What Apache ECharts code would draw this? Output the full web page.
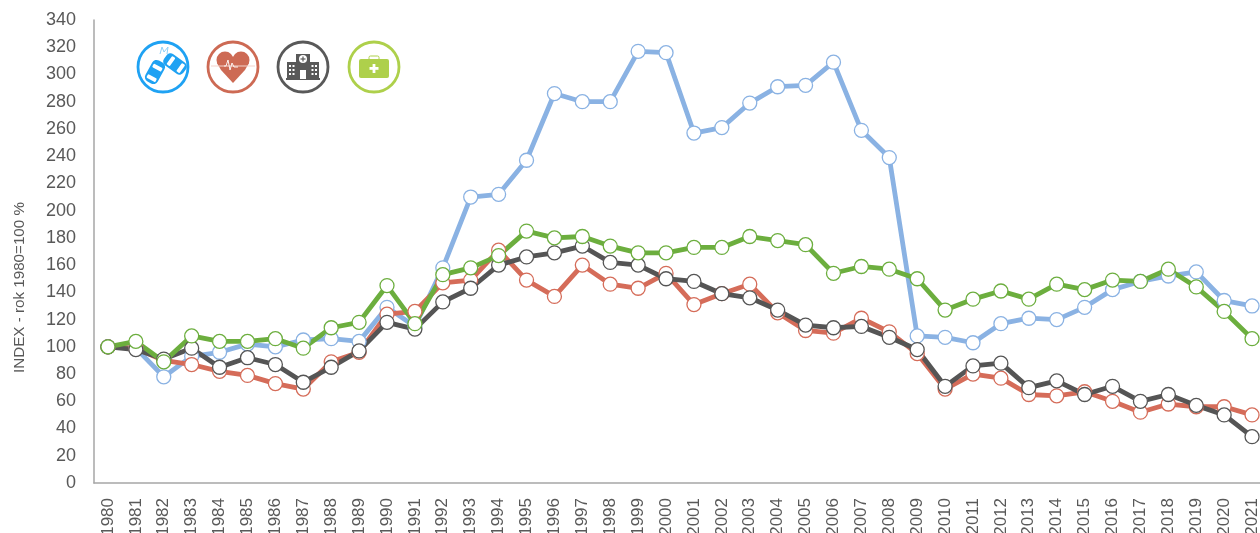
<!DOCTYPE html>
<html>
<head>
<meta charset="utf-8">
<style>html,body{margin:0;padding:0;background:#fff;overflow:hidden}#c{width:1260px;height:533px}</style>
<script src="https://cdn.jsdelivr.net/npm/echarts@6/dist/echarts.min.js"></script>
</head>
<body>
<div id="c"></div>
<script>
const years = [1980,1981,1982,1983,1984,1985,1986,1987,1988,1989,1990,1991,1992,1993,1994,1995,1996,1997,1998,1999,2000,2001,2002,2003,2004,2005,2006,2007,2008,2009,2010,2011,2012,2013,2014,2015,2016,2017,2018,2019,2020,2021].map(String);
const blueValues = [100,99,78,93,96,102,100,105,106,104,129,115,158,210,212,237,286,280,280,317,316,257,261,279,291,292,309,259,239,108,107,103,117,121,120,129,142,148,152,155,134,130];
const redValues = [100,99,90,87,82,79,73,69,89,96,124,126,147,149,171,149,137,160,146,143,154,131,139,146,125,112,110,121,111,95,69,80,77,65,64,67,60,52,58,56,56,50];
const blackValues = [100,98,91,99,85,92,87,74,85,97,118,113,133,143,160,166,169,174,162,160,150,148,139,136,127,116,114,115,107,98,71,86,88,70,75,65,71,60,65,57,50,34];
const greenValues = [100,104,89,108,104,104,106,99,114,118,145,117,153,158,167,185,180,181,174,169,169,173,173,181,178,175,154,159,157,150,127,135,141,135,146,142,149,148,157,144,126,106];
const axisName = 'INDEX - rok 1980=100 %';

const textColor = '#595959';
const font = '"Liberation Sans", Arial, sans-serif';
const line = (name, data, color) => ({
  name, type: 'line', data, symbol: 'circle', symbolSize: 14,
  lineStyle: {color, width: 4.8, cap: 'round', join: 'round'},
  itemStyle: {color: '#fff', borderColor: color, borderWidth: 1.3},
  animation: false, silent: true, z: 2
});
const ring = (cx, color, children) => ({
  type: 'group', x: cx, y: 67, silent: true,
  children: [{type: 'circle', shape: {r: 25}, style: {fill: '#fff', stroke: color, lineWidth: 2.8}}].concat(children)
});
const car = (x, y, rot, c) => ({
  type: 'group', x, y, rotation: rot, children: [
    {type: 'rect', shape: {x: -7, y: -12, width: 14, height: 24, r: 5}, style: {fill: c}},
    {type: 'rect', shape: {x: -5, y: -7, width: 10, height: 4, r: 1}, style: {fill: '#fff'}},
    {type: 'rect', shape: {x: -5, y: 5, width: 10, height: 4, r: 1}, style: {fill: '#fff'}}
  ]
});
const win = (x, y) => ({type: 'rect', shape: {x, y, width: 2, height: 2}, style: {fill: '#fff'}});
const icons = [
  ring(163, '#1fa2f3', [
    car(-8, 5, -0.5, '#1fa2f3'),
    car(12, -3, 0.95, '#1fa2f3'),
    {type: 'polyline', shape: {points: [[-3,-13],[-1,-20],[1,-15],[5,-20],[4,-13]]}, style: {fill: 'none', stroke: '#8fd0f8', lineWidth: 1}}
  ]),
  ring(233, '#cd6a54', [
    {type: 'circle', shape: {cx: -8, cy: -7, r: 8.5}, style: {fill: '#cd6a54'}},
    {type: 'circle', shape: {cx: 8, cy: -7, r: 8.5}, style: {fill: '#cd6a54'}},
    {type: 'polygon', shape: {points: [[-16,-4],[-8,-9],[8,-9],[16,-4],[12,3],[0,16],[-12,3]]}, style: {fill: '#cd6a54'}},
    {type: 'line', shape: {x1: -22, y1: -1, x2: 22, y2: -1}, style: {stroke: '#f3d3cc', lineWidth: 1.2}},
    {type: 'polyline', shape: {points: [[-9,-1],[-7,-1],[-5,-7],[-3,3],[-1,-4],[1,0],[5,0]]}, style: {fill: 'none', stroke: '#fff', lineWidth: 0.9}}
  ]),
  ring(303, '#595959', [
    {type: 'rect', shape: {x: -16, y: -5, width: 32, height: 17}, style: {fill: '#595959'}},
    {type: 'rect', shape: {x: -7, y: -13, width: 14, height: 25}, style: {fill: '#595959'}},
    {type: 'rect', shape: {x: -17, y: 11, width: 34, height: 2}, style: {fill: '#595959'}},
    {type: 'circle', shape: {cx: 0, cy: -8, r: 4}, style: {fill: '#fff'}},
    {type: 'rect', shape: {x: -2.5, y: -8.6, width: 5, height: 1.2}, style: {fill: '#595959'}},
    {type: 'rect', shape: {x: -0.6, y: -10.5, width: 1.2, height: 5}, style: {fill: '#595959'}},
    {type: 'rect', shape: {x: -3, y: 3, width: 6, height: 9}, style: {fill: '#fff'}},
    win(-14,-2), win(-10.5,-2), win(-14,2), win(-10.5,2), win(-14,6), win(-10.5,6),
    win(8.5,-2), win(12,-2), win(8.5,2), win(12,2), win(8.5,6), win(12,6)
  ]),
  ring(374, '#aed04b', [
    {type: 'rect', shape: {x: -5, y: -11, width: 10, height: 5, r: 1.5}, style: {fill: 'none', stroke: '#aed04b', lineWidth: 1}},
    {type: 'rect', shape: {x: -15, y: -8, width: 30, height: 19, r: 2}, style: {fill: '#aed04b'}},
    {type: 'rect', shape: {x: -4.5, y: 0, width: 9, height: 2.8}, style: {fill: '#fff'}},
    {type: 'rect', shape: {x: -1.4, y: -3, width: 2.8, height: 9}, style: {fill: '#fff'}}
  ])
];

const chart = echarts.init(document.getElementById('c'), null, {renderer: 'canvas'});
chart.setOption({
  backgroundColor: '#fff',
  animation: false,
  grid: {left: 94, top: 20, width: 1172, height: 463, containLabel: false, outerBoundsMode: 'none'},
  xAxis: {
    type: 'category', data: years, boundaryGap: true,
    axisLine: {lineStyle: {color: '#a6a6a6', width: 1.5}},
    axisTick: {show: false},
    axisLabel: {rotate: 90, interval: 0, margin: 15, color: textColor, fontFamily: font, fontSize: 17}
  },
  yAxis: {
    type: 'value', min: 0, max: 340, interval: 20,
    name: axisName, nameLocation: 'middle', nameGap: 67, nameRotate: 90,
    nameTextStyle: {color: textColor, fontFamily: font, fontSize: 15.2, padding: [0, 72, 0, 0]},
    axisLine: {show: true, lineStyle: {color: '#a6a6a6', width: 1.5}},
    axisTick: {show: false},
    splitLine: {show: false},
    axisLabel: {margin: 18, color: textColor, fontFamily: font, fontSize: 18}
  },
  series: [
    line('Blue', blueValues, '#8ab2e3'),
    line('Red', redValues, '#d56c59'),
    line('Black', blackValues, '#555555'),
    line('Green', greenValues, '#6cae3e')
  ],
  graphic: {elements: icons}
});
</script>
</body>
</html>
